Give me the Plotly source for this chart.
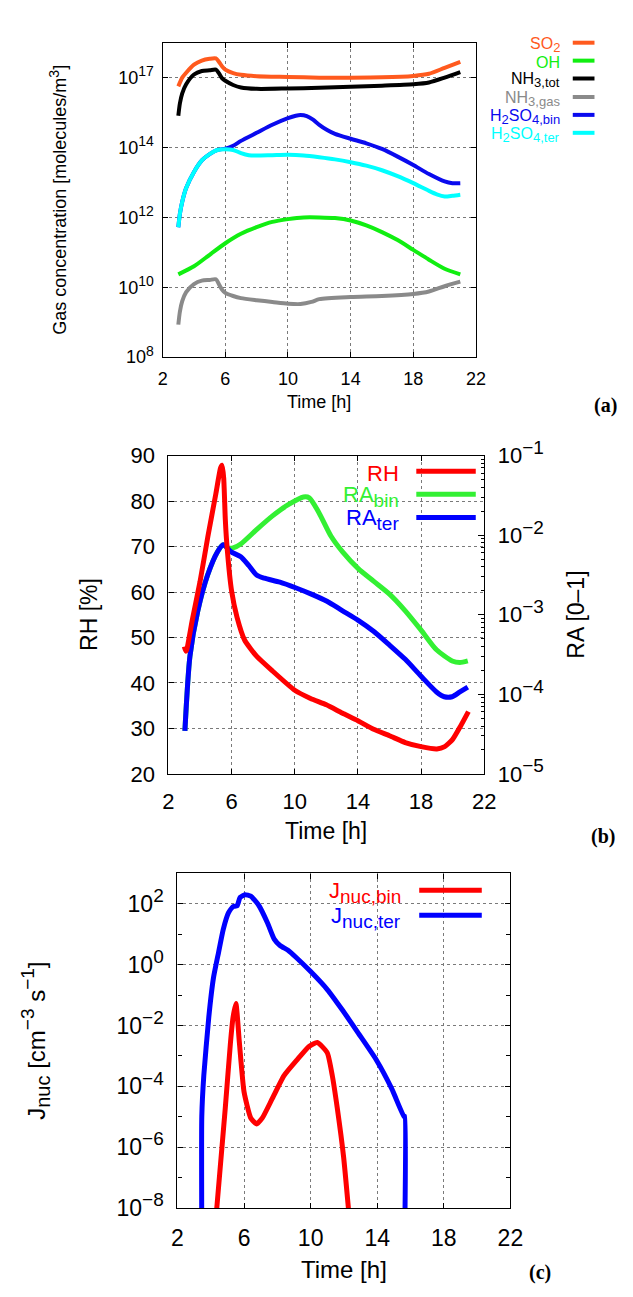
import plotly.graph_objects as go

W, H = 633, 1297
FONT = "Liberation Sans, Arial, sans-serif"

# ---------------- Panel (a): gas concentrations (log10 exponents on the plotted axis) -------------
a_tick_pos = [8, 10, 12, 14, 16]
a_tick_lbl = ["8", "10", "12", "14", "17"]

so2_h = [3.0, 3.25, 3.5, 4.0, 4.5, 5.0, 5.4, 5.6, 5.8, 6.0, 6.5, 7.0, 8.0, 10, 12, 14, 16, 18, 19, 20, 21]
so2_e = [15.75, 16.0, 16.14, 16.37, 16.49, 16.54, 16.55, 16.45, 16.32, 16.23, 16.13, 16.08, 16.04, 16.02, 16.0, 16.0, 16.01, 16.05, 16.11, 16.28, 16.45]

oh_h = [3, 4, 5, 6, 7, 8, 9, 10, 11, 12, 13, 14, 15, 16, 17, 18, 19, 20, 21]
oh_e = [10.37, 10.6, 10.93, 11.26, 11.53, 11.72, 11.87, 11.95, 12.0, 12.0, 11.98, 11.91, 11.77, 11.58, 11.35, 11.07, 10.79, 10.53, 10.37]

nh3tot_h = [3.0, 3.1, 3.25, 3.5, 4.0, 4.5, 5.0, 5.4, 5.6, 5.8, 6.0, 6.5, 7.0, 8, 10, 12, 14, 16, 18, 19, 20, 21]
nh3tot_e = [14.91, 15.26, 15.55, 15.81, 16.09, 16.19, 16.21, 16.23, 16.12, 15.98, 15.91, 15.79, 15.72, 15.68, 15.69, 15.71, 15.74, 15.77, 15.81, 15.86, 16.0, 16.16]

nh3gas_h = [3.0, 3.1, 3.25, 3.5, 4.0, 4.5, 5.0, 5.4, 5.6, 5.8, 6.0, 6.5, 7, 8, 9, 10, 10.8, 11.5, 12, 14, 16, 18, 19, 20, 21]
nh3gas_e = [8.93, 9.3, 9.6, 9.86, 10.09, 10.19, 10.21, 10.23, 10.08, 9.93, 9.84, 9.75, 9.69, 9.63, 9.58, 9.53, 9.52, 9.58, 9.66, 9.72, 9.75, 9.81, 9.88, 10.03, 10.16]

h2so4ter_h = [3.0, 3.1, 3.25, 3.5, 4.0, 4.5, 5.0, 5.5, 6.0, 6.5, 7.0, 7.5, 8, 9, 10, 11, 12, 13, 14, 15, 16, 17, 18, 19, 19.5, 20, 20.5, 21]
h2so4ter_e = [11.72, 12.1, 12.45, 12.84, 13.3, 13.63, 13.81, 13.93, 13.95, 13.93, 13.84, 13.78, 13.77, 13.78, 13.79, 13.77, 13.72, 13.66, 13.58, 13.48, 13.35, 13.18, 12.98, 12.76, 12.66, 12.6, 12.62, 12.65]

h2so4bin_h = [3.0, 3.1, 3.25, 3.5, 4.0, 4.5, 5.0, 5.5, 6.0, 6.5, 7, 8, 9, 10, 10.5, 10.8, 11.2, 11.6, 12, 12.5, 13, 14, 15, 16, 17, 18, 19, 20, 20.5, 21]
h2so4bin_e = [11.72, 12.1, 12.45, 12.84, 13.3, 13.63, 13.81, 13.93, 13.97, 14.05, 14.19, 14.42, 14.65, 14.84, 14.91, 14.93, 14.9, 14.8, 14.65, 14.5, 14.39, 14.25, 14.12, 13.96, 13.74, 13.5, 13.24, 13.03, 12.98, 12.98]

# ---------------- Panel (b): RH and RA ----------------
rh_h = [3.0, 3.1, 3.15, 3.5, 4.0, 4.5, 5.0, 5.3, 5.4, 5.5, 5.6, 5.72, 6.0, 6.34, 6.83, 7.58, 8.57, 10, 11, 12, 13, 14, 15, 16, 17, 18, 19, 19.5, 20, 20.5, 21]
rh_v = [48.0, 47.0, 47.2, 53.7, 62.3, 72.3, 81.6, 87.3, 87.9, 85.0, 76.0, 69.5, 60.2, 54.5, 49.4, 45.9, 42.7, 38.4, 36.6, 35.2, 33.4, 31.7, 29.8, 28.4, 26.9, 26.0, 25.5, 26.0, 27.6, 30.5, 33.7]

rater_h = [3.04, 3.36, 3.86, 4.48, 5.1, 5.47, 5.97, 6.58, 7.08, 7.58, 8.07, 9.06, 10.05, 11.05, 12.04, 13.03, 14.02, 15.01, 16.0, 17.0, 17.99, 18.98, 19.47, 19.97, 20.46, 20.96]
rater_e = [-4.46, -3.52, -2.95, -2.5, -2.21, -2.12, -2.21, -2.27, -2.38, -2.5, -2.54, -2.59, -2.66, -2.74, -2.83, -2.95, -3.07, -3.21, -3.38, -3.56, -3.77, -3.97, -4.03, -4.03, -3.97, -3.91]

rabin_h = [3.04, 3.36, 3.86, 4.48, 5.1, 5.47, 5.75, 6.09, 6.58, 7.58, 8.57, 9.56, 10.55, 10.92, 11.54, 12.29, 13.03, 14.02, 15.01, 16.0, 17.0, 17.99, 18.98, 19.97, 20.46, 20.96]
rabin_e = [-4.46, -3.52, -2.95, -2.5, -2.21, -2.12, -2.16, -2.16, -2.11, -1.93, -1.76, -1.62, -1.52, -1.53, -1.72, -2.01, -2.21, -2.42, -2.58, -2.74, -2.95, -3.19, -3.44, -3.58, -3.6, -3.58]

# ---------------- Panel (c): nucleation rates ----------------
jbin_h = [4.33, 4.87, 5.18, 5.34, 5.51, 5.72, 6.0, 6.4, 6.75, 7.1, 7.7, 8.4, 9.2, 9.9, 10.4, 11.0, 11.3, 11.6, 11.98, 12.3]
jbin_e = [-8.2, -4.72, -2.58, -1.73, -1.28, -2.58, -4.19, -5.04, -5.24, -5.04, -4.4, -3.65, -3.12, -2.69, -2.56, -2.9, -3.65, -4.72, -6.33, -8.2]

jter_h = [3.46, 3.46, 3.58, 3.88, 4.16, 4.47, 4.75, 5.06, 5.34, 5.58, 5.76, 6.05, 6.4, 6.87, 7.41, 7.81, 8.16, 8.64, 9.1, 10.0, 11.0, 11.93, 12.87, 13.93, 14.87, 15.6, 15.65, 15.65]
jter_e = [-9.0, -4.99, -3.65, -1.73, -0.44, 0.41, 1.16, 1.7, 1.91, 1.93, 2.21, 2.3, 2.25, 1.96, 1.37, 0.84, 0.63, 0.47, 0.25, -0.23, -0.82, -1.51, -2.26, -3.12, -4.08, -4.99, -4.99, -9.0]

x_ticks = [2, 6, 10, 14, 18, 22]
b_ra_exps = [-5, -4, -3, -2, -1]
c_exps = [-8, -6, -4, -2, 0, 2]


def pw(exps):
    return [10 ** e for e in exps]


def sub(t, size):
    return '<sub><span style="font-size:%dpx">%s</span></sub>' % (size, t)


def sup(t, size):
    return '<sup><span style="font-size:%dpx">%s</span></sup>' % (size, t)


def pow_lbl(e, size):
    return "10" + sup(str(e).replace("-", "−"), size)


fig = go.Figure()

# panel a
series_a = [
    ("SO" + sub("2", 13), so2_h, so2_e, "#ff5a1e"),
    ("OH", oh_h, oh_e, "#11ee11"),
    ("NH" + sub("3,tot", 13), nh3tot_h, nh3tot_e, "#000000"),
    ("NH" + sub("3,gas", 13), nh3gas_h, nh3gas_e, "#8a8a8a"),
    ("H" + sub("2", 13) + "SO" + sub("4,bin", 13), h2so4bin_h, h2so4bin_e, "#0a0aee"),
    ("H" + sub("2", 13) + "SO" + sub("4,ter", 13), h2so4ter_h, h2so4ter_e, "#00ffff"),
]
# draw order: cyan over blue (as in the reference)
for name, hx, ex, col in [series_a[4], series_a[5], series_a[0], series_a[1], series_a[2], series_a[3]]:
    fig.add_trace(go.Scatter(x=hx, y=pw(ex), mode="lines", xaxis="x", yaxis="y",
                             line=dict(color=col, width=4, shape="spline", smoothing=0.7),
                             showlegend=False, hoverinfo="skip"))

# panel b : RA on base axis y2 (right, log), RH on overlay axis y3 (left) so RH is drawn on top
fig.add_trace(go.Scatter(x=rabin_h, y=pw(rabin_e), mode="lines", xaxis="x2", yaxis="y2",
                         line=dict(color="#33f033", width=5, shape="spline", smoothing=0.7),
                         showlegend=False, hoverinfo="skip"))
fig.add_trace(go.Scatter(x=rater_h, y=pw(rater_e), mode="lines", xaxis="x2", yaxis="y2",
                         line=dict(color="#0000ff", width=5, shape="spline", smoothing=0.7),
                         showlegend=False, hoverinfo="skip"))
fig.add_trace(go.Scatter(x=rh_h, y=rh_v, mode="lines", xaxis="x2", yaxis="y3",
                         line=dict(color="#ff0000", width=5, shape="spline", smoothing=0.5),
                         showlegend=False, hoverinfo="skip"))

# panel c
fig.add_trace(go.Scatter(x=jbin_h, y=pw(jbin_e), mode="lines", xaxis="x3", yaxis="y4",
                         line=dict(color="#ff0000", width=5, shape="spline", smoothing=0.5),
                         showlegend=False, hoverinfo="skip"))
fig.add_trace(go.Scatter(x=jter_h, y=pw(jter_e), mode="lines", xaxis="x3", yaxis="y4",
                         line=dict(color="#0000ff", width=5, shape="spline", smoothing=0.5),
                         showlegend=False, hoverinfo="skip"))


def px(x):
    return x / W


def py(y):
    return 1 - y / H


grid = dict(showgrid=True, gridcolor="#7a7a7a", gridwidth=1, griddash="dot",
            showline=True, linecolor="black", linewidth=1.3, zeroline=False,
            ticks="inside", tickcolor="black")

xcommon = dict(range=[2, 22], tickvals=x_ticks, **grid)

fig.update_layout(
    width=W, height=H, margin=dict(l=0, r=0, t=0, b=0),
    paper_bgcolor="white", plot_bgcolor="white",
    font=dict(family=FONT, color="black"),
    xaxis=dict(domain=[px(161.5), px(484.5)], anchor="y", ticklen=5, mirror="ticks",
               tickfont=dict(size=18), ticklabelstandoff=5, **xcommon),
    yaxis=dict(domain=[py(346.7), py(24.3)], anchor="x", type="log", range=[8, 17],
               tickvals=pw(a_tick_pos),
               ticktext=["10" + sup(t, 14) for t in a_tick_lbl],
               ticklen=5, mirror="ticks", tickfont=dict(size=18), ticklabelstandoff=4, **grid),
    xaxis2=dict(domain=[px(167.5), px(493)], anchor="y2", ticklen=5, mirror="ticks",
                tickfont=dict(size=22), ticklabelstandoff=8, **xcommon),
    yaxis2=dict(domain=[py(774), py(447.7)], anchor="x2", side="right", type="log", range=[-5, -1],
                tickvals=pw(b_ra_exps),
                ticktext=[pow_lbl(e, 19) for e in b_ra_exps],
                showgrid=False, showline=True, linecolor="black", linewidth=1.3, zeroline=False,
                ticks="inside", ticklen=6, tickcolor="black",
                minor=dict(ticks="inside", ticklen=3, tickcolor="black",
                           tickvals=[k * 10 ** e for e in range(-5, -1) for k in range(2, 10)]),
                tickfont=dict(size=22), ticklabelstandoff=8),
    yaxis3=dict(overlaying="y2", anchor="x2", side="left", range=[20, 90], dtick=10, tick0=20,
                ticklen=5, tickfont=dict(size=22), ticklabelstandoff=8, **grid),
    xaxis3=dict(domain=[px(176.8), px(520)], anchor="y4", ticklen=5, mirror="ticks",
                tickfont=dict(size=23), ticklabelstandoff=9, **xcommon),
    yaxis4=dict(domain=[py(1219), py(876)], anchor="x3", type="log", range=[-8, 3],
                tickvals=pw(c_exps),
                ticktext=[pow_lbl(e, 19) for e in c_exps],
                ticklen=5, mirror="ticks", tickfont=dict(size=23), ticklabelstandoff=8,
                minor=dict(ticks="inside", ticklen=4, tickcolor="black",
                           tickvals=pw([-7, -5, -3, -1, 1])),
                **grid),
)

ann = []
shapes = []


def text(x, y, t, size, color="black", xanchor="center", angle=0, family=FONT, yanchor="middle"):
    ann.append(dict(x=px(x), y=py(y), xref="paper", yref="paper", text=t, showarrow=False,
                    xanchor=xanchor, yanchor=yanchor, textangle=angle,
                    font=dict(size=size, color=color, family=family)))


def legline(x0, x1, y, color, w):
    shapes.append(dict(type="line", xref="paper", yref="paper", x0=px(x0), x1=px(x1),
                       y0=py(y), y1=py(y), line=dict(color=color, width=w)))


# axis titles
text(323, 393, "Time [h]", 18)
text(54.5, 185.5, "Gas concentration [molecules/m" + sup("3", 14) + "]", 18, angle=-90)
text(330, 833, "Time [h]", 23)
text(85.6, 611, "RH [%]", 23, angle=-90)
text(587.4, 611, "RA [0–1]", 23, angle=-90)
text(348.4, 1281.7, "Time [h]", 24)
text(30, 1047.5, "J" + sub("nuc", 20) + " [cm" + sup("−3", 19) + " s" + sup("−1", 19) + "]", 24, angle=-90)

# panel labels
SERIF = "Liberation Serif, Times New Roman, serif"
text(618.5, 396.7, "<b>(a)</b>", 20, family=SERIF)
text(615.7, 838, "<b>(b)</b>", 20, family=SERIF)
text(551, 1285, "<b>(c)</b>", 20, family=SERIF)

# legend (a)
leg_a_y = [24.3, 42.7, 61, 80, 98.3, 116.7]
for (name, hx, ex, col), yy in zip(series_a, leg_a_y):
    text(572.7, yy + 2, name, 16, color=col, xanchor="right")
    legline(584.3, 606.7, yy, col, 4)

# legend (b)
for (name, col), yy in zip([("RH", "#ff0000"), ("RA" + sub("bin", 19), "#33f033"), ("RA" + sub("ter", 19), "#0000ff")],
                           [463.7, 487.3, 511]):
    text(407, yy + 2, name, 22, color=col, xanchor="right")
    legline(423, 484.3, yy, col, 5)

# legend (c)
for (name, col), yy in zip([("J" + sub("nuc,bin", 19), "#ff0000"), ("J" + sub("nuc,ter", 19), "#0000ff")],
                           [893.3, 919]):
    text(409.8, yy + 2, name, 22, color=col, xanchor="right")
    legline(426, 490.5, yy, col, 5)

fig.update_layout(annotations=ann, shapes=shapes)
fig.write_html("out.html", config={"displayModeBar": False},
               post_script="document.body.style.margin='0';document.body.style.overflow='hidden';")
